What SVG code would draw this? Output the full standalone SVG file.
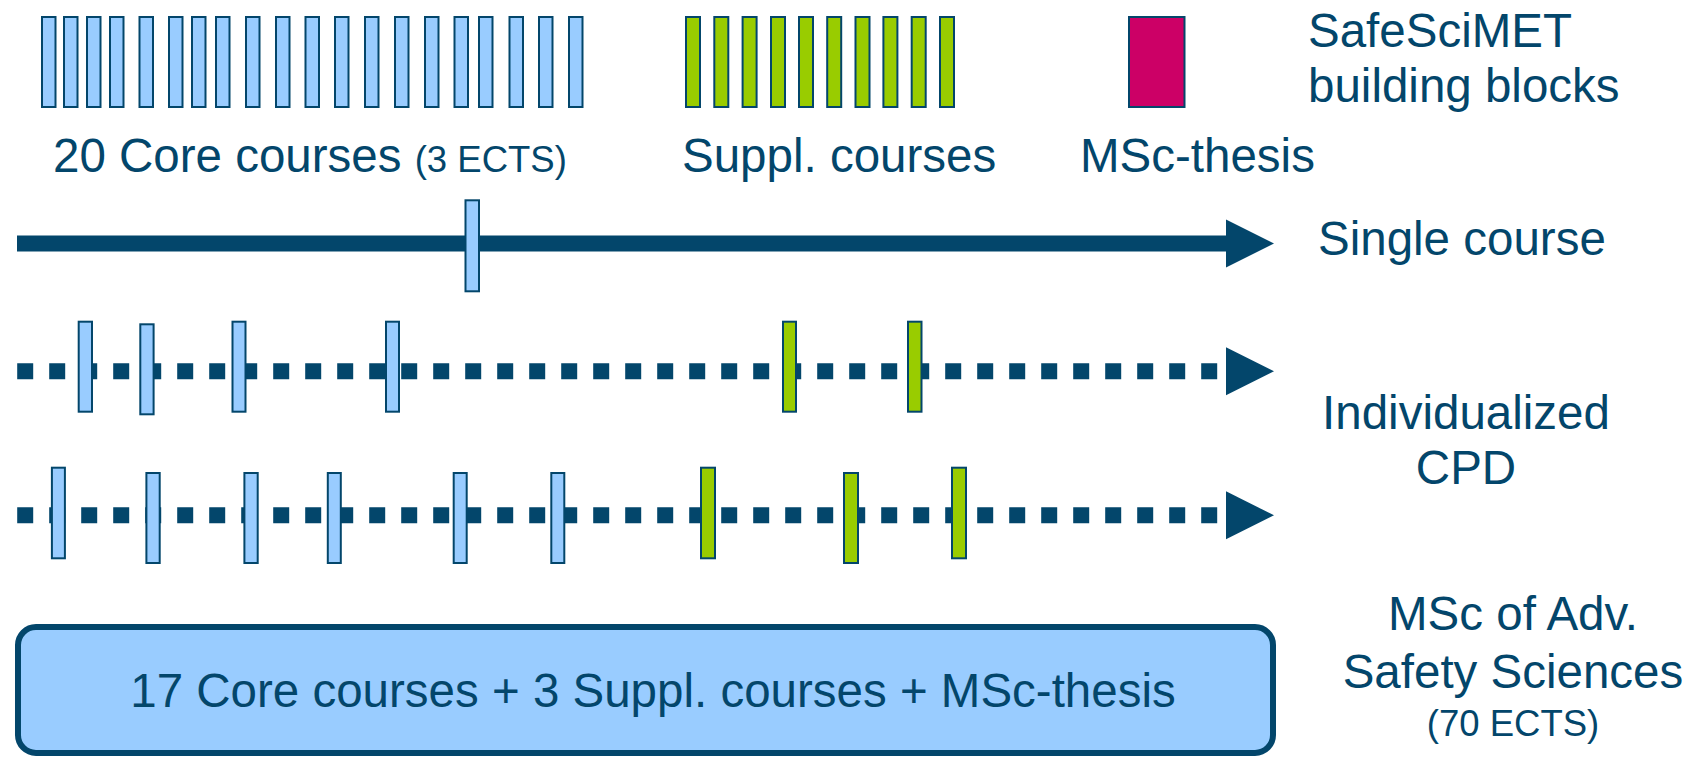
<svg xmlns="http://www.w3.org/2000/svg" width="1704" height="757" viewBox="0 0 1704 757">
  <style>
    text { font-family: "Liberation Sans", Arial, sans-serif; fill: #03466b; }
    .big { font-size: 47.5px; }
    .small { font-size: 36.5px; }
    .core { fill: #99ccff; stroke: #03466b; stroke-width: 2; }
    .supp { fill: #99cc00; stroke: #03466b; stroke-width: 2; }
    .thesis { fill: #cc0066; stroke: #03466b; stroke-width: 2; }
    .solid { stroke: #03466b; stroke-width: 16; fill: none; }
    .dotted { stroke: #03466b; stroke-width: 16; stroke-dasharray: 16 16; fill: none; }
    .head { fill: #03466b; }
  </style>
  <defs>
    <rect id="cb" class="core" width="13.5" height="90"/>
    <rect id="sb" class="supp" width="14" height="90"/>
  </defs>

  <rect width="1704" height="757" fill="#ffffff"/>

  <!-- building blocks: core courses -->
  <g id="core-courses">
    <use href="#cb" x="42" y="17"/>
    <use href="#cb" x="64" y="17"/>
    <use href="#cb" x="87" y="17"/>
    <use href="#cb" x="110" y="17"/>
    <use href="#cb" x="139.5" y="17"/>
    <use href="#cb" x="169" y="17"/>
    <use href="#cb" x="192" y="17"/>
    <use href="#cb" x="216" y="17"/>
    <use href="#cb" x="246" y="17"/>
    <use href="#cb" x="276" y="17"/>
    <use href="#cb" x="305.5" y="17"/>
    <use href="#cb" x="335" y="17"/>
    <use href="#cb" x="365" y="17"/>
    <use href="#cb" x="395" y="17"/>
    <use href="#cb" x="425" y="17"/>
    <use href="#cb" x="454.5" y="17"/>
    <use href="#cb" x="479" y="17"/>
    <use href="#cb" x="509.5" y="17"/>
    <use href="#cb" x="539" y="17"/>
    <use href="#cb" x="569" y="17"/>
    <text class="big" x="53" y="172">20 Core courses <tspan class="small">(3 ECTS)</tspan></text>
  </g>

  <!-- building blocks: supplementary courses -->
  <g id="suppl-courses">
    <use href="#sb" x="686" y="17"/>
    <use href="#sb" x="714.3" y="17"/>
    <use href="#sb" x="742.6" y="17"/>
    <use href="#sb" x="771" y="17"/>
    <use href="#sb" x="799" y="17"/>
    <use href="#sb" x="827.2" y="17"/>
    <use href="#sb" x="855.5" y="17"/>
    <use href="#sb" x="883.4" y="17"/>
    <use href="#sb" x="911.7" y="17"/>
    <use href="#sb" x="940" y="17"/>
    <text class="big" x="682" y="172">Suppl. courses</text>
  </g>

  <!-- building blocks: thesis -->
  <g id="msc-thesis">
    <rect class="thesis" x="1129" y="17" width="55.5" height="90"/>
    <text class="big" x="1080" y="172">MSc-thesis</text>
  </g>

  <g id="label-blocks">
    <text class="big" x="1308" y="47">SafeSciMET</text>
    <text class="big" x="1308" y="102">building blocks</text>
  </g>

  <!-- timelines -->
  <g id="connectors">
    <line class="solid" x1="17" y1="243.5" x2="1228" y2="243.5"/>
    <polygon class="head" points="1226,219.5 1274,243.5 1226,267.5"/>
    <line class="dotted" x1="17.2" y1="371.3" x2="1217.5" y2="371.3"/>
    <polygon class="head" points="1226,347.3 1274,371.3 1226,395.3"/>
    <line class="dotted" x1="17.2" y1="515.3" x2="1217.5" y2="515.3"/>
    <polygon class="head" points="1226,491.3 1274,515.3 1226,539.3"/>
  </g>

  <!-- single course path -->
  <g id="single-course">
    <rect class="core" x="465.5" y="200.3" width="13.5" height="91"/>
    <text class="big" x="1318" y="255">Single course</text>
  </g>

  <!-- individualized CPD paths -->
  <g id="cpd-path-1">
    <rect class="core" x="78.7" y="321.7" width="13.3" height="90"/>
    <rect class="core" x="140.3" y="324.3" width="13.3" height="90"/>
    <rect class="core" x="232.5" y="321.7" width="13" height="90"/>
    <rect class="core" x="386" y="321.7" width="13" height="90"/>
    <rect class="supp" x="783" y="321.7" width="13" height="90"/>
    <rect class="supp" x="908" y="321.7" width="13.5" height="90"/>
  </g>
  <g id="cpd-path-2">
    <rect class="core" x="51.9" y="467.7" width="13" height="90.6"/>
    <rect class="core" x="146.4" y="473" width="13.3" height="90"/>
    <rect class="core" x="244.4" y="473" width="13.3" height="90"/>
    <rect class="core" x="327.8" y="473" width="13" height="90"/>
    <rect class="core" x="453.7" y="473" width="13" height="90"/>
    <rect class="core" x="551.3" y="473" width="13" height="90"/>
    <rect class="supp" x="701" y="467.7" width="14" height="90.6"/>
    <rect class="supp" x="844" y="473" width="14" height="90"/>
    <rect class="supp" x="952" y="467.7" width="14" height="90.6"/>
  </g>
  <g id="label-cpd">
    <text class="big" x="1466" y="429" text-anchor="middle">Individualized</text>
    <text class="big" x="1466" y="484" text-anchor="middle">CPD</text>
  </g>

  <!-- full programme -->
  <g id="msc-programme">
    <rect x="18" y="627" width="1255" height="126" rx="18" ry="18" fill="#99ccff" stroke="#03466b" stroke-width="6"/>
    <text class="big" x="653" y="707" text-anchor="middle">17 Core courses + 3 Suppl. courses + MSc-thesis</text>
  </g>
  <g id="label-msc">
    <text class="big" x="1513" y="630" text-anchor="middle">MSc of Adv.</text>
    <text class="big" x="1513" y="688" text-anchor="middle">Safety Sciences</text>
    <text class="small" x="1513" y="736" text-anchor="middle">(70 ECTS)</text>
  </g>
</svg>
